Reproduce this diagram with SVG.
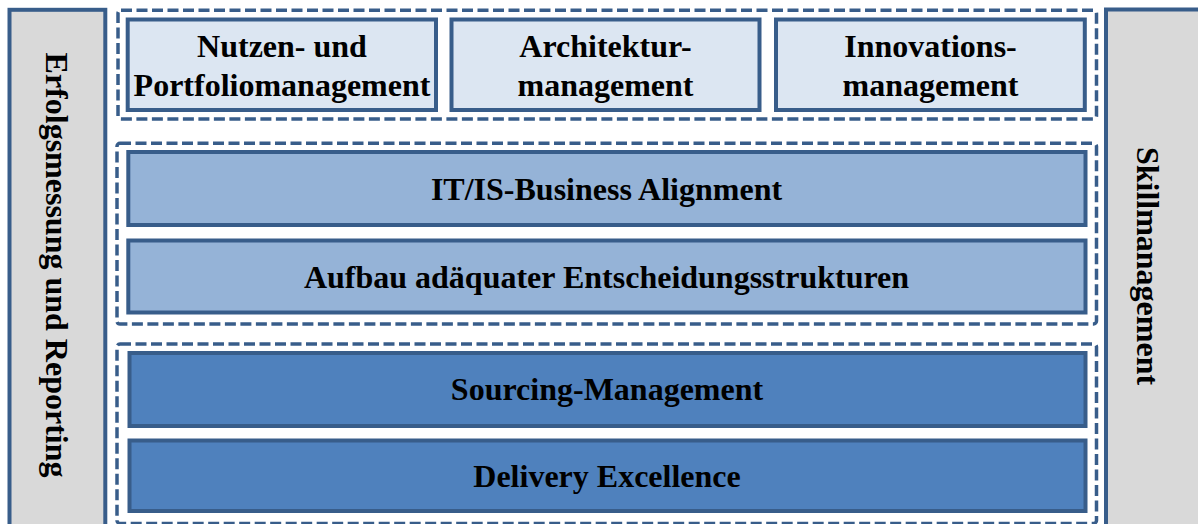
<svg xmlns="http://www.w3.org/2000/svg" width="1198" height="524" viewBox="0 0 1198 524">
  <style>
    .side { fill: #d9d9d9; stroke: #385d8a; stroke-width: 4; }
    .group { fill: none; stroke: #385d8a; stroke-width: 3.5; stroke-dasharray: 11 4.5; }
    .box { stroke: #385d8a; stroke-width: 4; }
    .l1 { fill: #dce6f2; }
    .l2 { fill: #95b3d7; }
    .l3 { fill: #4f81bd; }
    text { font-family: "Liberation Serif", "Times New Roman", serif; font-weight: bold; font-size: 32px; fill: #000; text-anchor: middle; }
  </style>
  <rect width="1198" height="524" fill="#ffffff"/>

  <!-- side pillars -->
  <g id="erfolgsmessung">
    <rect class="side" x="9.5" y="9.8" width="95.8" height="530"/>
    <text transform="translate(57,265) rotate(90)" y="11">Erfolgsmessung und Reporting</text>
  </g>
  <g id="skillmanagement">
    <rect class="side" x="1106" y="9.5" width="110" height="530"/>
    <text transform="translate(1148,266) rotate(90)" y="11">Skillmanagement</text>
  </g>

  <!-- dashed grouping frames -->
  <g id="frames">
    <rect class="group" x="118" y="10.3" width="978.5" height="108.7" rx="3"/>
    <rect class="group" x="117" y="143.3" width="979.5" height="180.7" rx="3"/>
    <rect class="group" x="117" y="344" width="979.5" height="179.5" rx="3"/>
  </g>

  <!-- top layer -->
  <g id="nutzen">
    <rect class="box l1" x="127.7" y="19.5" width="308.3" height="90.5"/>
    <text x="282" y="57">Nutzen- und</text>
    <text x="282" y="96">Portfoliomanagement</text>
  </g>
  <g id="architektur">
    <rect class="box l1" x="451.5" y="19.5" width="308" height="90.5"/>
    <text x="605.5" y="57">Architektur-</text>
    <text x="605.5" y="96">management</text>
  </g>
  <g id="innovation">
    <rect class="box l1" x="776" y="19.5" width="308.8" height="90.5"/>
    <text x="930.5" y="57">Innovations-</text>
    <text x="930.5" y="96">management</text>
  </g>

  <!-- middle layer -->
  <g id="alignment">
    <rect class="box l2" x="128.3" y="152" width="957.2" height="73"/>
    <text x="606.5" y="200">IT/IS-Business Alignment</text>
  </g>
  <g id="entscheidung">
    <rect class="box l2" x="128.3" y="240.5" width="957.2" height="72"/>
    <text x="606.5" y="288">Aufbau adäquater Entscheidungsstrukturen</text>
  </g>

  <!-- bottom layer -->
  <g id="sourcing">
    <rect class="box l3" x="129.5" y="353" width="956" height="73"/>
    <text x="607" y="400">Sourcing-Management</text>
  </g>
  <g id="delivery">
    <rect class="box l3" x="129.5" y="440.5" width="956" height="70.5"/>
    <text x="607" y="487">Delivery Excellence</text>
  </g>
</svg>
